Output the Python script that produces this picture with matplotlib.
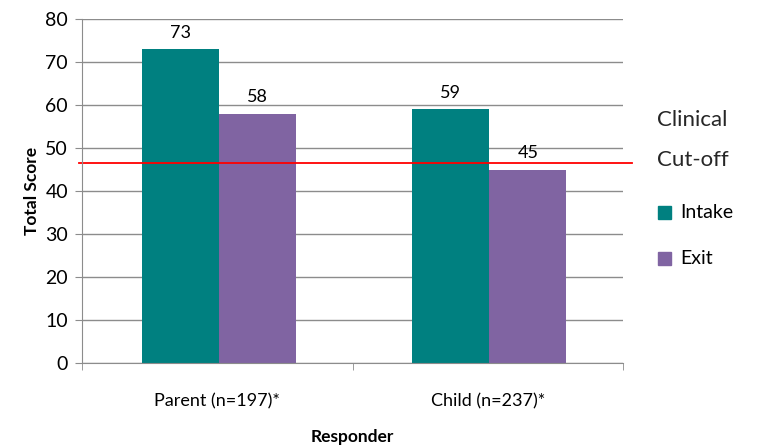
import matplotlib
matplotlib.use("Agg")
import matplotlib.pyplot as plt
from matplotlib.patches import Rectangle

categories = ["Parent (n=197)*", "Child (n=237)*"]
intake = [73, 59]
exit_ = [58, 45]
cutoff = 46.5
series_names = ["Intake", "Exit"]
colors = ["#008080", "#8064A2"]

plt.rcParams['font.family'] = ['Lato', 'DejaVu Sans']

fig = plt.figure(figsize=(7.57, 4.46), dpi=100)
W, H = 757, 446
ax = fig.add_axes([82 / W, 1 - 363 / H, (623 - 82) / W, (363 - 19) / H])

x = [0.006, 1.006]
bw = 0.285
b1 = ax.bar([i - bw / 2 for i in x], intake, width=bw, color=colors[0])
b2 = ax.bar([i + bw / 2 for i in x], exit_, width=bw, color=colors[1])
for bars, vals in ((b1, intake), (b2, exit_)):
    for r, v in zip(bars, vals):
        ax.text(r.get_x() + r.get_width() / 2, v + 2.0, str(v), ha="center",
                va="bottom", fontsize=13)

ax.set_xlim(-0.5, 1.5)
ax.set_ylim(0, 80)
ax.set_yticks(range(0, 81, 10))
ax.yaxis.grid(True, color="#8c8c8c", linewidth=1)
ax.set_axisbelow(True)
for s in ["top", "right"]:
    ax.spines[s].set_visible(False)
for s in ["left", "bottom"]:
    ax.spines[s].set_color("#8c8c8c")
ax.tick_params(axis="y", length=5, color="#8c8c8c", labelsize=14, pad=5, direction="out")
ax.set_xticks([0, 1])
ax.set_xticklabels(categories, fontsize=13)
ax.set_xticks([-0.5, 0.5, 1.5], minor=True)
ax.tick_params(axis="x", which="major", length=0, pad=22)
ax.tick_params(axis="x", which="minor", length=5, color="#8c8c8c", direction="out")
ax.set_ylabel("Total Score", fontsize=12.5, fontweight="bold", labelpad=4)
ax.set_xlabel("Responder", fontsize=12.5, fontweight="bold", labelpad=14)

ax.axhline(cutoff, xmin=-0.005, xmax=(632 - 82) / (623 - 82), color="#FF0000",
           linewidth=1.3, clip_on=False)

fig.text(657 / W, 1 - 120 / H, "Clinical", fontsize=16, va="center", color="#262626")
fig.text(657 / W, 1 - 160 / H, "Cut-off", fontsize=16, va="center", color="#262626")
for i, (name, c) in enumerate(zip(series_names, colors)):
    yc = [212, 258][i]
    fig.patches.append(Rectangle((658 / W, 1 - (yc + 6.5) / H), 13 / W, 13 / H,
                                 transform=fig.transFigure, color=c, figure=fig))
    fig.text(680 / W, 1 - yc / H, name, fontsize=14, va="center")

fig.savefig("out.png", dpi=100)
